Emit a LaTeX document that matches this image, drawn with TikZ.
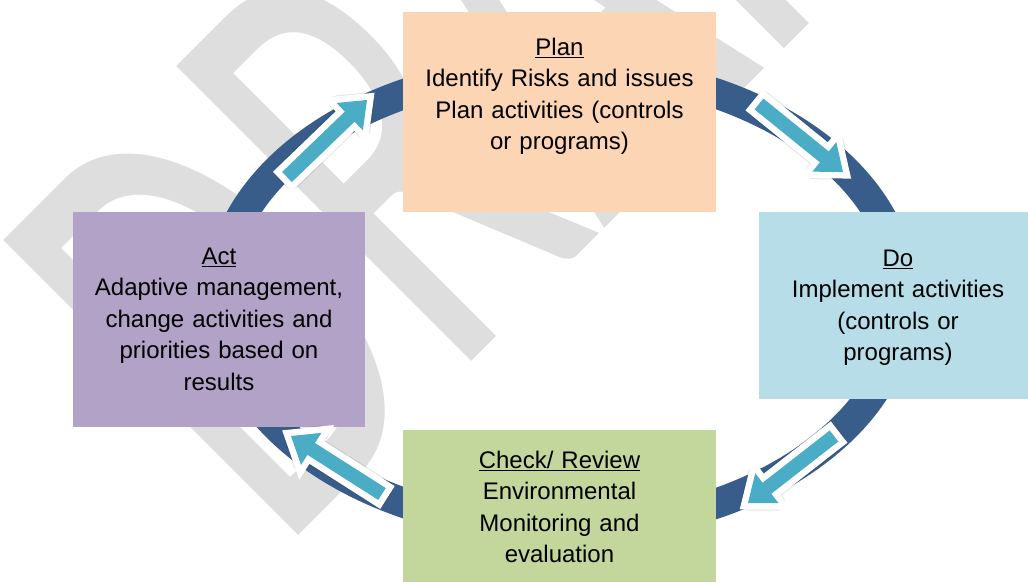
\documentclass[tikz,border=0pt]{standalone}
\usepackage{fontspec}
\setmainfont{Liberation Sans}
\newfontfamily\wmfont{Carlito}
\usepackage{graphicx}
\usetikzlibrary{calc}
\definecolor{ringblue}{HTML}{385D8A}
\definecolor{arrowcyan}{HTML}{4BACC6}
\definecolor{wmgray}{HTML}{DEDEDE}
\definecolor{planfill}{HTML}{FCD5B5}
\definecolor{dofill}{HTML}{B7DEE8}
\definecolor{checkfill}{HTML}{C3D69B}
\definecolor{actfill}{HTML}{B3A2C7}
\newsavebox\ulbox
\newcommand\ultext[1]{\sbox\ulbox{#1}\usebox\ulbox\llap{\rule[-2.8pt]{\wd\ulbox}{1.2pt}}}
\tikzset{
  stagebox/.style={draw=none, inner sep=0pt, outer sep=0pt, anchor=north west},
  stagetext/.style={inner sep=0pt, anchor=base, align=center, text=black,
    font=\fontsize{24}{31.6}\selectfont},
  arrowborder/.style={draw=white, fill=white, line width=13pt, line join=miter},
  arrowshadow/.style={draw=black, fill=black, opacity=0.10, line width=15pt, line join=round},
  arrowbody/.style={fill=arrowcyan, draw=none},
  ringline/.style={draw=ringblue, line width=30pt},
}
% #1 = arrow name (coordinates #1t tail, #1h tip), #2 = style
\newcommand\arrowshape[2]{%
  \path[#2] ($(#1t)!7pt!90:(#1h)$) -- ($(#1b)!7pt!90:(#1h)$) -- ($(#1b)!19pt!90:(#1h)$)
    -- (#1h) -- ($(#1b)!19pt!-90:(#1h)$) -- ($(#1b)!7pt!-90:(#1h)$)
    -- ($(#1t)!7pt!-90:(#1h)$) -- cycle;}
\newcommand\blockarrow[1]{%
  \coordinate (#1b) at ($(#1h)!24pt!(#1t)$);
  \begin{scope}[shift={(2pt,-3pt)}]\arrowshape{#1}{arrowshadow}\end{scope}
  \arrowshape{#1}{arrowborder}
  \arrowshape{#1}{arrowbody}}
\begin{document}
\begin{tikzpicture}[x=1pt,y=-1pt]
\useasboundingbox (0,0) rectangle (1028,581);
\clip (0,0) rectangle (1028,581);
\fill[white] (0,0) rectangle (1028,581);
% watermark
\node[rotate=45, anchor=base west, inner sep=0pt, outer sep=0pt, text=wmgray,
  font=\wmfont\fontsize{650}{650}\selectfont] (wm) at (279,554) {\scalebox{0.61}[1]{DRAFT}};
% ring
\draw[ringline] (561,298.5) ellipse [x radius=342, y radius=230];
% boxes
\node[stagebox, fill=planfill, minimum width=313pt, minimum height=200pt] (plan) at (403,12) {};
\node[stagebox, fill=dofill, minimum width=290pt, minimum height=187pt] (do) at (759,212) {};
\node[stagebox, fill=checkfill, minimum width=313pt, minimum height=170pt] (check) at (403,430) {};
\node[stagebox, fill=actfill, minimum width=292pt, minimum height=215pt] (act) at (73,212) {};
% texts
\node[stagetext, text width=300pt] (plantext) at (559.5,55)
  {\ultext{Plan}\\Identify Risks and issues\\Plan activities (controls\\or programs)};
\node[stagetext, text width=260pt] (dotext) at (898,266)
  {\ultext{Do}\\Implement activities\\(controls or\\programs)};
\node[stagetext, text width=300pt] (checktext) at (559.5,468)
  {\ultext{Check/ Review}\\Environmental\\Monitoring and\\evaluation};
\node[stagetext, text width=285pt] (acttext) at (219,264)
  {\ultext{Act}\\Adaptive management,\\change activities and\\priorities based on\\results};
% arrows
\coordinate (aat) at (287,177); \coordinate (aah) at (367,100);
\coordinate (abt) at (759,104); \coordinate (abh) at (843,172);
\coordinate (act) at (834,436); \coordinate (ach) at (748,503);
\coordinate (adt) at (382,494); \coordinate (adh) at (291,436);
\blockarrow{aa}
\blockarrow{ab}
\blockarrow{ac}
\blockarrow{ad}
\end{tikzpicture}
\end{document}
